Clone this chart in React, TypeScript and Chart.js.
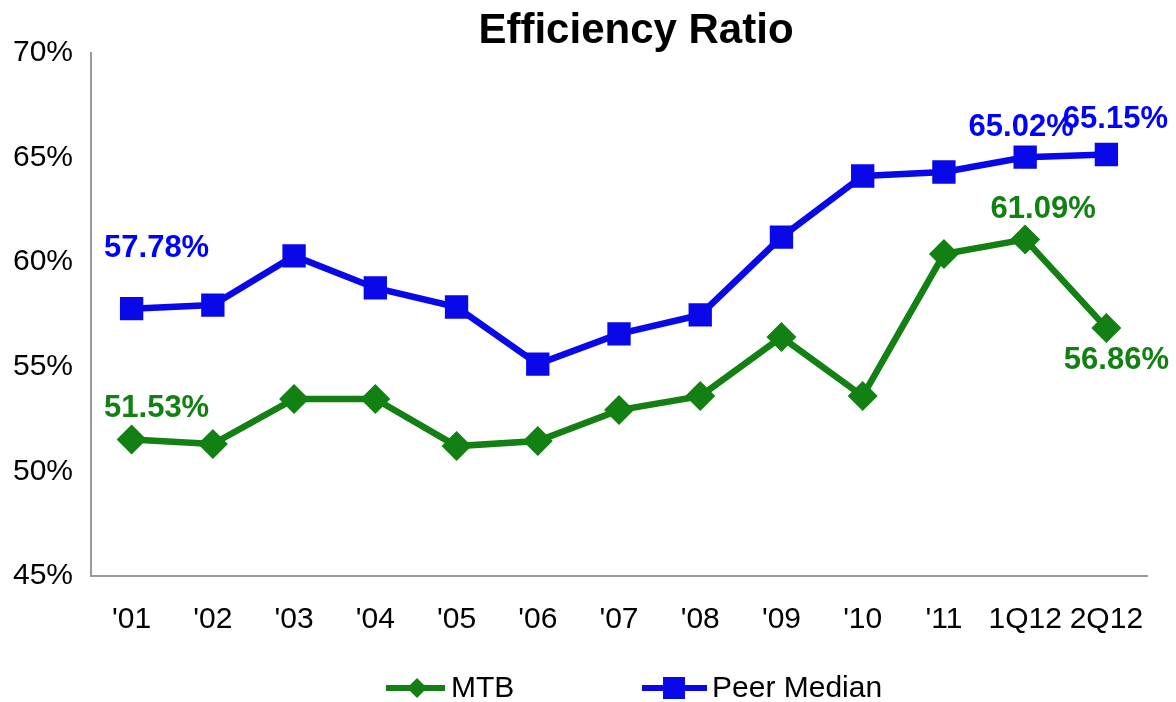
import React, { useEffect, useRef } from "react";
import { Chart, registerables } from "chart.js";

Chart.register(...registerables);

// ---- data ----
const categories = ["'01", "'02", "'03", "'04", "'05", "'06", "'07", "'08", "'09", "'10", "'11", "1Q12", "2Q12"];
const mtbValues = [51.53, 51.31, 53.46, 53.46, 51.21, 51.45, 52.93, 53.6, 56.42, 53.6, 60.39, 61.09, 56.86];
const peerValues = [57.78, 57.95, 60.3, 58.77, 57.86, 55.13, 56.57, 57.48, 61.2, 64.12, 64.31, 65.02, 65.15];
const yMin = 45;
const yMax = 70;
const yStep = 5;
const seriesNames = ["MTB", "Peer Median"];
const titleText = "Efficiency Ratio";

// which points carry a value label (dataset index, point index, offset)
const labelSpecs = [
  { ds: 1, i: 0, dx: 25, dy: -60 },
  { ds: 1, i: 11, dx: -4, dy: -30 },
  { ds: 1, i: 12, dx: 9, dy: -35 },
  { ds: 0, i: 0, dx: 25, dy: -31 },
  { ds: 0, i: 11, dx: 18, dy: -30 },
  { ds: 0, i: 12, dx: 10, dy: 33 },
];

const GREEN = "#128012";
const BLUE = "#0808e8";
const LABEL_BLUE = "#0000ff";
const FONT = "'Liberation Sans', Arial, sans-serif";

const overlayPlugin = {
  id: "overlay",
  afterDatasetsDraw(chart: any) {
    const ctx = chart.ctx;
    ctx.save();
    // value labels
    ctx.font = `bold 31px ${FONT}`;
    ctx.textAlign = "center";
    ctx.textBaseline = "middle";
    labelSpecs.forEach((s) => {
      const meta = chart.getDatasetMeta(s.ds);
      const pt = meta.data[s.i];
      const v = chart.data.datasets[s.ds].data[s.i] as number;
      ctx.fillStyle = s.ds === 0 ? GREEN : LABEL_BLUE;
      ctx.fillText(v.toFixed(2) + "%", pt.x + s.dx, pt.y + s.dy);
    });
    // title
    ctx.fillStyle = "#000";
    ctx.font = `bold 42px ${FONT}`;
    ctx.fillText(titleText, 636, 31);
    // legend
    const ly = 688;
    const items = [
      { x0: 386, x1: 445, mx: 417, tx: 451, color: GREEN, shape: "diamond", name: seriesNames[0] },
      { x0: 642, x1: 707, mx: 674, tx: 712, color: BLUE, shape: "square", name: seriesNames[1] },
    ];
    items.forEach((it) => {
      ctx.strokeStyle = it.color;
      ctx.fillStyle = it.color;
      ctx.lineWidth = 6;
      ctx.beginPath();
      ctx.moveTo(it.x0, ly);
      ctx.lineTo(it.x1, ly);
      ctx.stroke();
      ctx.beginPath();
      if (it.shape === "diamond") {
        ctx.moveTo(it.mx, ly - 10);
        ctx.lineTo(it.mx + 10, ly);
        ctx.lineTo(it.mx, ly + 10);
        ctx.lineTo(it.mx - 10, ly);
        ctx.closePath();
      } else {
        ctx.rect(it.mx - 11, ly - 11, 22, 22);
      }
      ctx.fill();
      ctx.fillStyle = "#000";
      ctx.font = `30px ${FONT}`;
      ctx.textAlign = "left";
      ctx.fillText(it.name, it.tx, ly + 1);
    });
    ctx.restore();
  },
};

export default function App() {
  const ref = useRef<HTMLCanvasElement>(null);
  useEffect(() => {
    if (!ref.current) return;
    const chart = new Chart(ref.current, {
      type: "line",
      data: {
        labels: categories,
        datasets: [
          {
            label: seriesNames[0],
            data: mtbValues,
            borderColor: GREEN,
            backgroundColor: GREEN,
            borderWidth: 6.5,
            pointStyle: "rectRot",
            pointRadius: 15,
            pointHoverRadius: 15,
            pointBorderWidth: 0,
            tension: 0,
          },
          {
            label: seriesNames[1],
            data: peerValues,
            borderColor: BLUE,
            backgroundColor: BLUE,
            borderWidth: 6.5,
            pointStyle: "rect",
            pointRadius: 16.5,
            pointHoverRadius: 16.5,
            pointBorderWidth: 0,
            tension: 0,
          },
        ],
      },
      options: {
        animation: false,
        responsive: true,
        maintainAspectRatio: false,
        layout: { padding: { top: 53, right: 29, bottom: 0, left: 0 } },
        plugins: {
          legend: { display: false },
          title: { display: false },
          tooltip: { enabled: false },
        },
        scales: {
          x: {
            offset: true,
            grid: { display: false, drawTicks: false },
            border: { display: true, color: "#999", width: 2 },
            ticks: { color: "#000", font: { size: 30, family: FONT }, padding: 26, maxRotation: 0, autoSkip: false },
            afterFit: (axis: any) => {
              axis.height = 126;
            },
          },
          y: {
            min: yMin,
            max: yMax,
            grid: { display: false, drawTicks: false },
            border: { display: true, color: "#999", width: 2 },
            ticks: {
              stepSize: yStep,
              color: "#000",
              font: { size: 30, family: FONT },
              padding: 18,
              callback: (v: any) => v + "%",
            },
            afterFit: (axis: any) => {
              axis.width = 91;
            },
          },
        },
      },
      plugins: [overlayPlugin],
    });
    return () => chart.destroy();
  }, []);
  return (
    <div style={{ position: "fixed", left: 0, top: 0, width: 1176, height: 702, background: "#fff" }}>
      <canvas ref={ref} />
    </div>
  );
}
